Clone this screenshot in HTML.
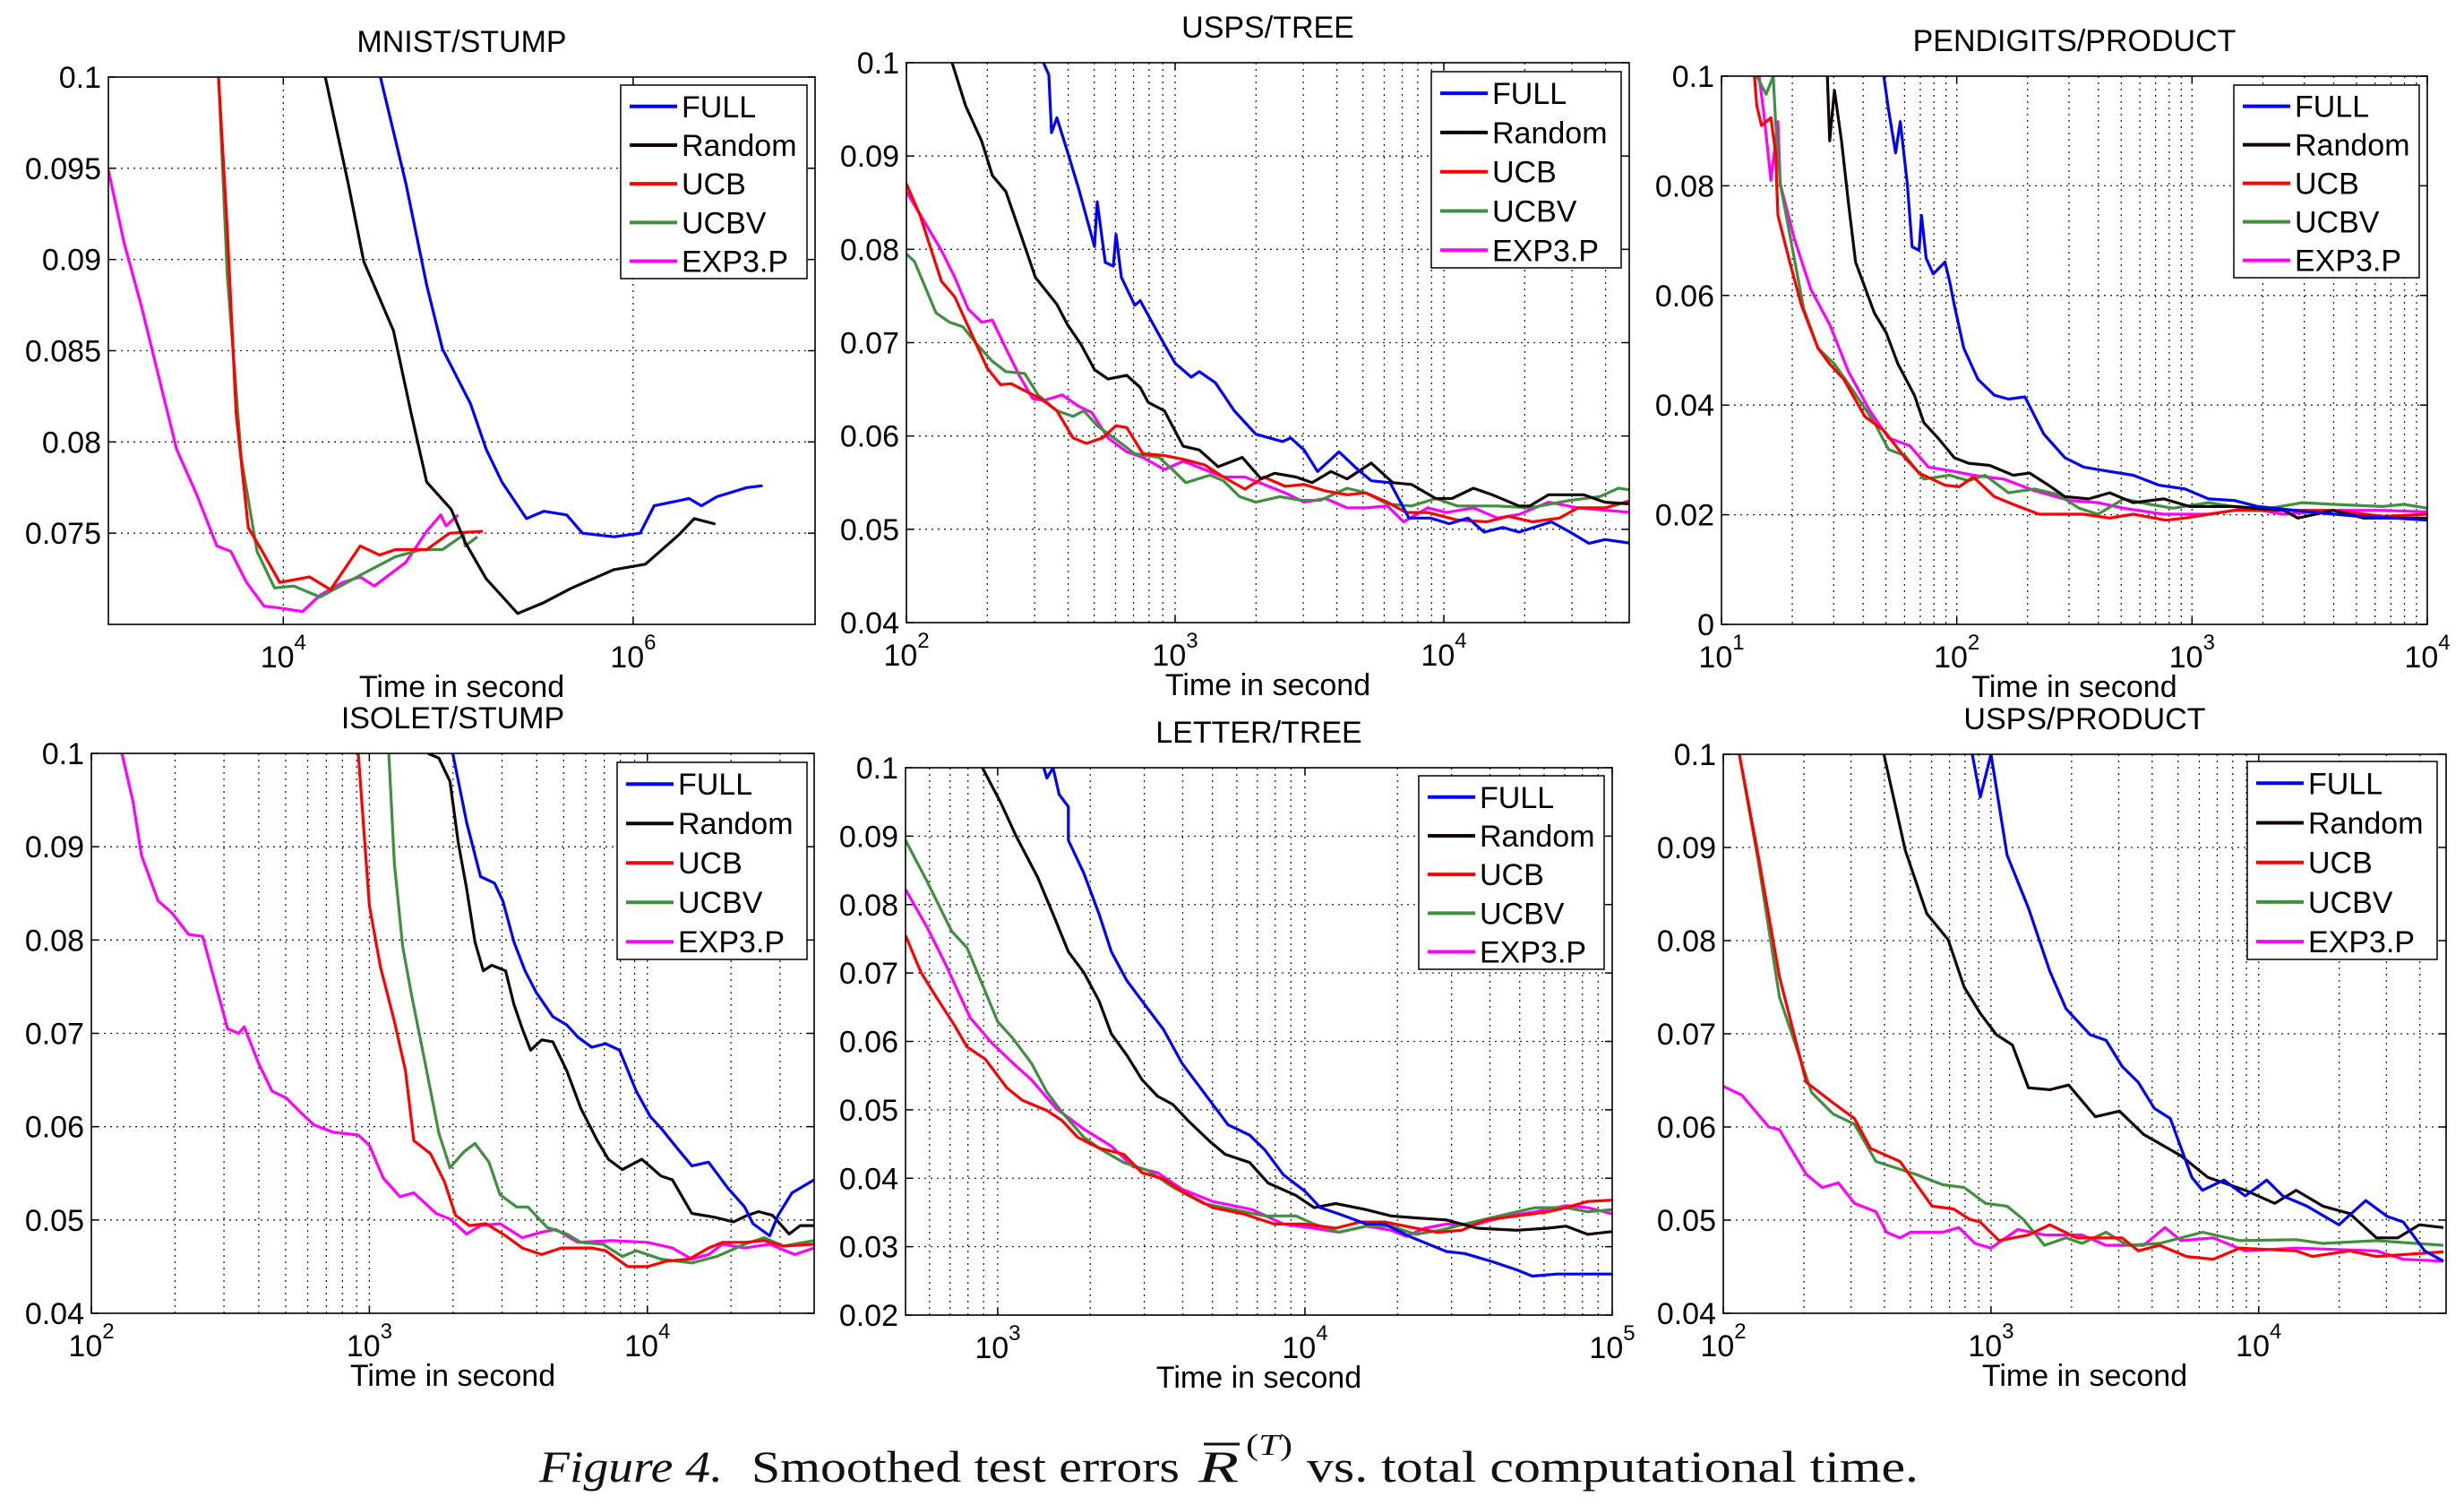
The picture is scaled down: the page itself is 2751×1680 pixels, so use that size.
<!DOCTYPE html>
<html><head><meta charset="utf-8"><style>
html,body{margin:0;padding:0;background:#fff;}
svg{display:block;font-family:"Liberation Sans",sans-serif;}
</style></head><body>
<svg id="fig" width="2751" height="1680" viewBox="0 0 2751 1680" xmlns="http://www.w3.org/2000/svg">
<rect width="2751" height="1680" fill="#fff"/>
<g font-family="'Liberation Serif',serif" font-size="50" fill="#111">
<text x="602" y="1654" font-style="italic" textLength="205" lengthAdjust="spacingAndGlyphs">Figure 4.</text>
<text x="839" y="1654" textLength="478" lengthAdjust="spacingAndGlyphs">Smoothed test errors</text>
<text x="1338" y="1654" font-style="italic" textLength="45" lengthAdjust="spacingAndGlyphs">R</text>
<line x1="1344" y1="1612" x2="1384" y2="1612" stroke="#111" stroke-width="3"/>
<text x="1391" y="1624" font-size="34" textLength="52" lengthAdjust="spacingAndGlyphs">(<tspan font-style="italic">T</tspan>)</text>
<text x="1459" y="1654" textLength="683" lengthAdjust="spacingAndGlyphs">vs. total computational time.</text>
</g>
</svg>
<script>
// ---------- data (x = log10 time in seconds, y = smoothed test error) ----------
// MNIST/STUMP
const mnistFullT=[4.555,4.70,4.82,4.91,5.07,5.16,5.25,5.39,5.49,5.62,5.71,5.89,6.04,6.12,6.32,6.39,6.48,6.65,6.74];
const mnistFullE=[0.1,0.0942,0.0886,0.0851,0.0821,0.0796,0.0778,0.0758,0.0762,0.0760,0.0750,0.0748,0.0750,0.0765,0.0769,0.0765,0.0770,0.0775,0.0776];
const mnistRandT=[4.24,4.37,4.46,4.63,4.73,4.82,4.96,5.04,5.16,5.34,5.49,5.65,5.89,6.07,6.26,6.35,6.47];
const mnistRandE=[0.1,0.0942,0.0899,0.0861,0.0816,0.0778,0.0763,0.0745,0.0725,0.0706,0.0712,0.0720,0.0730,0.0733,0.0749,0.0758,0.0755];
const mnistUcbT=[3.63,3.68,3.73,3.80,3.88,3.98,4.15,4.27,4.44,4.55,4.64,4.82,4.95,5.14];
const mnistUcbE=[0.1,0.0916,0.0816,0.0753,0.0740,0.0723,0.0726,0.0719,0.0743,0.0738,0.0741,0.0741,0.0750,0.0751];
const mnistUcbvT=[3.63,3.68,3.76,3.85,3.95,4.06,4.21,4.46,4.64,4.79,4.91,5.03,5.04,5.11];
const mnistUcbvE=[0.1,0.0891,0.0791,0.0740,0.0720,0.0721,0.0715,0.0728,0.0737,0.0741,0.0741,0.0749,0.0743,0.0748];
const mnistExpT=[3.0,3.09,3.19,3.30,3.39,3.51,3.62,3.70,3.79,3.89,3.98,4.11,4.21,4.34,4.44,4.52,4.70,4.82,4.90,4.93,5.00];
const mnistExpE=[0.0949,0.0909,0.0874,0.0831,0.0796,0.0770,0.0743,0.0740,0.0723,0.0710,0.0709,0.0707,0.0716,0.0723,0.0726,0.0721,0.0734,0.0751,0.0760,0.0754,0.0760];
// USPS/TREE
const uspsTreeFullT=[2.51,2.53,2.54,2.56,2.60,2.64,2.66,2.70,2.71,2.74,2.77,2.78,2.80,2.85,2.87,2.96,3.00,3.06,3.09,3.15,3.22,3.30,3.40,3.43,3.48,3.53,3.61,3.68,3.73,3.80,3.87,3.95,4.02,4.09,4.15,4.22,4.28,4.40,4.47,4.54,4.60,4.70];
const uspsTreeFullE=[0.1,0.0987,0.0925,0.0941,0.0904,0.0866,0.0845,0.0803,0.0851,0.0786,0.0782,0.0816,0.0770,0.0740,0.0745,0.0698,0.0678,0.0663,0.0669,0.0657,0.0627,0.0602,0.0594,0.0598,0.0585,0.0562,0.0583,0.0564,0.0552,0.0550,0.0512,0.0512,0.0506,0.0512,0.0497,0.0502,0.0497,0.0508,0.0497,0.0485,0.0489,0.0485];
const uspsTreeRandT=[2.17,2.22,2.28,2.32,2.37,2.43,2.48,2.56,2.60,2.65,2.70,2.75,2.82,2.87,2.90,2.96,3.03,3.09,3.16,3.25,3.32,3.37,3.45,3.51,3.58,3.64,3.73,3.81,3.88,3.97,4.03,4.11,4.18,4.28,4.32,4.39,4.52,4.60,4.70];
const uspsTreeRandE=[0.1,0.0954,0.0916,0.0879,0.0862,0.0812,0.0770,0.0741,0.0719,0.0698,0.0671,0.0661,0.0665,0.0652,0.0636,0.0627,0.0589,0.0585,0.0567,0.0577,0.0554,0.0560,0.0556,0.0550,0.0562,0.0554,0.0571,0.0550,0.0548,0.0533,0.0533,0.0544,0.0537,0.0525,0.0525,0.0537,0.0537,0.0529,0.0527];
const uspsTreeUcbT=[2.0,2.05,2.13,2.18,2.24,2.30,2.35,2.39,2.43,2.50,2.56,2.62,2.67,2.73,2.78,2.82,2.88,2.96,3.03,3.11,3.18,3.26,3.33,3.41,3.48,3.56,3.64,3.71,3.79,3.86,3.94,4.05,4.16,4.24,4.33,4.43,4.50,4.60,4.70];
const uspsTreeUcbE=[0.0870,0.0837,0.0766,0.0749,0.0711,0.0673,0.0655,0.0656,0.0650,0.0640,0.0627,0.0598,0.0592,0.0598,0.0611,0.0609,0.0581,0.0579,0.0575,0.0569,0.0556,0.0543,0.0556,0.0546,0.0548,0.0541,0.0537,0.0539,0.0529,0.0518,0.0518,0.0510,0.0508,0.0514,0.0508,0.0512,0.0523,0.0523,0.0531];
const uspsTreeUcbvT=[2.0,2.03,2.11,2.16,2.21,2.26,2.32,2.37,2.44,2.49,2.56,2.62,2.66,2.71,2.79,2.85,2.94,2.99,3.04,3.13,3.18,3.24,3.30,3.39,3.47,3.54,3.64,3.71,3.79,3.88,3.97,4.05,4.20,4.32,4.47,4.58,4.65,4.70];
const uspsTreeUcbvE=[0.0795,0.0787,0.0732,0.0722,0.0717,0.0699,0.0680,0.0669,0.0667,0.0644,0.0627,0.0621,0.0627,0.0611,0.0594,0.0581,0.0577,0.0564,0.0550,0.0558,0.0552,0.0535,0.0529,0.0535,0.0531,0.0531,0.0544,0.0539,0.0527,0.0525,0.0533,0.0525,0.0525,0.0523,0.0531,0.0535,0.0544,0.0542];
const uspsTreeExpT=[2.0,2.06,2.13,2.18,2.23,2.28,2.32,2.37,2.42,2.47,2.51,2.58,2.64,2.69,2.75,2.82,2.88,2.96,3.03,3.11,3.18,3.26,3.33,3.41,3.48,3.56,3.64,3.71,3.79,3.85,3.94,4.01,4.11,4.20,4.28,4.39,4.50,4.62,4.70];
const uspsTreeExpE=[0.0862,0.0833,0.0799,0.0770,0.0736,0.0722,0.0724,0.0694,0.0665,0.0640,0.0638,0.0644,0.0632,0.0625,0.0598,0.0583,0.0577,0.0564,0.0573,0.0564,0.0556,0.0556,0.0548,0.0539,0.0529,0.0533,0.0523,0.0523,0.0525,0.0508,0.0523,0.0518,0.0523,0.0512,0.0516,0.0529,0.0523,0.0520,0.0518];
// PENDIGITS/PRODUCT
const penFullT=[1.69,1.71,1.74,1.76,1.79,1.81,1.84,1.85,1.87,1.90,1.95,1.97,1.99,2.03,2.09,2.16,2.22,2.29,2.37,2.46,2.54,2.65,2.75,2.86,2.97,3.07,3.18,3.28,3.50,3.71,3.86,4.0];
const penFullE=[0.1,0.0939,0.0860,0.0917,0.0803,0.0689,0.0682,0.0746,0.0668,0.0639,0.0661,0.0625,0.0582,0.0504,0.0447,0.0418,0.0411,0.0415,0.0347,0.0304,0.0287,0.0279,0.0272,0.0254,0.0247,0.0229,0.0226,0.0215,0.0205,0.0197,0.0194,0.0190];
const penRandT=[1.45,1.46,1.48,1.51,1.54,1.57,1.65,1.70,1.75,1.82,1.86,1.92,1.99,2.05,2.14,2.24,2.31,2.39,2.46,2.56,2.65,2.75,2.88,2.99,3.18,3.39,3.45,3.60,3.73,4.0];
const penRandE=[0.1,0.0882,0.0974,0.0882,0.0768,0.0661,0.0568,0.0532,0.0475,0.0418,0.0368,0.0340,0.0304,0.0294,0.0290,0.0272,0.0276,0.0254,0.0233,0.0229,0.0240,0.0222,0.0229,0.0215,0.0215,0.0208,0.0194,0.0208,0.0194,0.0194];
const penUcbT=[1.14,1.15,1.17,1.21,1.23,1.24,1.29,1.34,1.41,1.46,1.52,1.61,1.69,1.78,1.84,1.95,2.01,2.07,2.16,2.24,2.35,2.54,2.65,2.75,2.89,2.97,3.18,3.39,3.60,3.81,4.0];
const penUcbE=[0.1,0.0946,0.0910,0.0924,0.0860,0.0746,0.0661,0.0582,0.0504,0.0475,0.0447,0.0379,0.0354,0.0304,0.0276,0.0254,0.0251,0.0269,0.0233,0.0219,0.0201,0.0201,0.0194,0.0201,0.0190,0.0194,0.0208,0.0208,0.0208,0.0197,0.0201];
const penUcbvT=[1.15,1.19,1.22,1.23,1.25,1.30,1.35,1.41,1.48,1.56,1.65,1.71,1.78,1.86,1.97,2.05,2.12,2.22,2.33,2.43,2.52,2.60,2.71,2.82,2.92,3.07,3.28,3.47,3.60,3.81,3.90,4.0];
const penUcbvE=[0.1,0.0967,0.1,0.0917,0.0803,0.0689,0.0575,0.0504,0.0475,0.0426,0.0368,0.0319,0.0308,0.0265,0.0272,0.0262,0.0272,0.0240,0.0247,0.0237,0.0212,0.0201,0.0229,0.0219,0.0212,0.0222,0.0208,0.0222,0.0219,0.0215,0.0219,0.0212];
const penExpT=[1.16,1.18,1.21,1.24,1.25,1.31,1.38,1.46,1.54,1.63,1.71,1.80,1.88,1.99,2.07,2.20,2.33,2.48,2.60,2.71,2.88,3.07,3.24,3.39,3.60,3.81,4.0];
const penExpE=[0.1,0.0932,0.0810,0.0917,0.0803,0.0703,0.0611,0.0547,0.0461,0.0390,0.0340,0.0326,0.0287,0.0279,0.0272,0.0265,0.0244,0.0226,0.0222,0.0212,0.0201,0.0201,0.0212,0.0201,0.0208,0.0208,0.0205];
// ISOLET/STUMP
const isoFullT=[3.30,3.35,3.40,3.45,3.48,3.52,3.56,3.60,3.66,3.71,3.75,3.80,3.85,3.90,3.96,4.01,4.05,4.11,4.16,4.22,4.29,4.35,4.38,4.44,4.47,4.52,4.60];
const isoFullE=[0.1,0.0926,0.0868,0.0861,0.0842,0.0798,0.0767,0.0744,0.0718,0.0709,0.0696,0.0685,0.0689,0.0682,0.0638,0.0611,0.0598,0.0576,0.0558,0.0562,0.0534,0.0514,0.0496,0.0483,0.0505,0.0529,0.0543];
const isoRandT=[3.21,3.25,3.29,3.32,3.35,3.38,3.41,3.44,3.49,3.52,3.55,3.58,3.62,3.66,3.71,3.76,3.82,3.86,3.91,3.98,4.05,4.09,4.16,4.24,4.31,4.36,4.40,4.45,4.51,4.55,4.60];
const isoRandE=[0.1,0.0995,0.0970,0.0904,0.0855,0.0798,0.0767,0.0773,0.0767,0.0731,0.0705,0.0682,0.0693,0.0691,0.0660,0.0620,0.0585,0.0565,0.0554,0.0565,0.0547,0.0543,0.0507,0.0503,0.0498,0.0505,0.0509,0.0505,0.0485,0.0494,0.0494];
const isoUcbT=[2.96,3.0,3.04,3.09,3.13,3.16,3.22,3.27,3.31,3.36,3.42,3.49,3.55,3.62,3.69,3.80,3.85,3.93,4.0,4.07,4.15,4.22,4.27,4.35,4.42,4.49,4.60];
const isoUcbE=[0.1,0.0837,0.0771,0.0713,0.0660,0.0585,0.0571,0.0541,0.0505,0.0494,0.0496,0.0483,0.0470,0.0463,0.0470,0.0470,0.0467,0.0450,0.0450,0.0456,0.0458,0.0470,0.0476,0.0476,0.0478,0.0472,0.0474];
const isoUcbvT=[3.07,3.09,3.12,3.15,3.20,3.25,3.29,3.34,3.38,3.43,3.47,3.53,3.57,3.64,3.71,3.76,3.84,3.91,3.96,4.05,4.16,4.25,4.35,4.42,4.49,4.60];
const isoUcbvE=[0.1,0.0882,0.0793,0.0744,0.0669,0.0593,0.0556,0.0573,0.0582,0.0562,0.0527,0.0514,0.0514,0.0492,0.0485,0.0476,0.0474,0.0461,0.0467,0.0458,0.0454,0.0461,0.0474,0.0481,0.0472,0.0478];
const isoExpT=[2.11,2.15,2.18,2.24,2.29,2.35,2.40,2.45,2.49,2.53,2.55,2.60,2.65,2.70,2.75,2.80,2.87,2.96,3.0,3.05,3.11,3.16,3.24,3.29,3.35,3.40,3.47,3.55,3.62,3.67,3.75,3.87,4.0,4.09,4.16,4.22,4.27,4.35,4.44,4.53,4.60];
const isoExpE=[0.1,0.0948,0.0891,0.0842,0.0829,0.0806,0.0804,0.0749,0.0705,0.0700,0.0707,0.0669,0.0638,0.0631,0.0616,0.0602,0.0594,0.0591,0.0580,0.0545,0.0525,0.0529,0.0507,0.0501,0.0485,0.0494,0.0496,0.0481,0.0487,0.0490,0.0476,0.0478,0.0476,0.0470,0.0458,0.0463,0.0474,0.0470,0.0474,0.0463,0.0470];
// LETTER/TREE
const letFullT=[3.15,3.16,3.18,3.20,3.23,3.23,3.28,3.33,3.37,3.42,3.47,3.54,3.60,3.65,3.70,3.75,3.82,3.87,3.93,4.0,4.05,4.11,4.20,4.26,4.34,4.46,4.52,4.61,4.69,4.74,4.82,4.89,5.0];
const letFullE=[0.1,0.0985,0.1,0.0961,0.0943,0.0894,0.0846,0.0786,0.0731,0.0689,0.0659,0.0617,0.0568,0.0538,0.0508,0.0478,0.0463,0.0441,0.0405,0.0381,0.0357,0.0348,0.0333,0.0333,0.0315,0.0293,0.0290,0.0278,0.0266,0.0257,0.0260,0.0260,0.0260];
const letRandT=[2.95,3.01,3.06,3.13,3.18,3.23,3.28,3.33,3.37,3.42,3.47,3.52,3.57,3.62,3.69,3.74,3.82,3.88,3.97,4.03,4.10,4.20,4.28,4.36,4.46,4.56,4.69,4.79,4.85,4.92,5.0];
const letRandE=[0.1,0.0949,0.0900,0.0840,0.0786,0.0731,0.0701,0.0659,0.0611,0.0580,0.0544,0.0520,0.0508,0.0484,0.0454,0.0435,0.0423,0.0393,0.0375,0.0357,0.0363,0.0354,0.0345,0.0342,0.0339,0.0327,0.0324,0.0327,0.0330,0.0318,0.0322];
const letUcbT=[2.70,2.75,2.80,2.86,2.90,2.96,3.03,3.08,3.16,3.21,3.26,3.33,3.41,3.47,3.54,3.60,3.70,3.80,3.90,4.0,4.10,4.18,4.26,4.36,4.43,4.51,4.59,4.69,4.79,4.85,4.92,5.0];
const letUcbE=[0.0755,0.0701,0.0665,0.0623,0.0592,0.0574,0.0532,0.0514,0.0499,0.0484,0.0460,0.0444,0.0435,0.0408,0.0399,0.0381,0.0357,0.0348,0.0333,0.0333,0.0327,0.0336,0.0336,0.0327,0.0321,0.0324,0.0339,0.0345,0.0351,0.0357,0.0366,0.0368];
const letUcbvT=[2.70,2.77,2.85,2.90,2.95,3.0,3.05,3.11,3.16,3.21,3.28,3.34,3.41,3.49,3.57,3.67,3.77,3.87,3.97,4.03,4.11,4.20,4.28,4.36,4.44,4.52,4.66,4.75,4.85,4.92,5.0];
const letUcbvE=[0.0894,0.0834,0.0761,0.0737,0.0683,0.0629,0.0604,0.0568,0.0526,0.0496,0.0460,0.0441,0.0423,0.0411,0.0387,0.0363,0.0354,0.0345,0.0345,0.0333,0.0321,0.0330,0.0330,0.0318,0.0324,0.0333,0.0348,0.0357,0.0357,0.0351,0.0354];
const letExpT=[2.70,2.77,2.83,2.91,2.98,3.05,3.11,3.19,3.28,3.37,3.44,3.52,3.60,3.70,3.83,3.93,4.03,4.11,4.20,4.28,4.33,4.39,4.46,4.56,4.66,4.75,4.85,4.92,5.0];
const letExpE=[0.0822,0.0767,0.0713,0.0635,0.0598,0.0568,0.0544,0.0502,0.0472,0.0447,0.0417,0.0408,0.0384,0.0366,0.0354,0.0333,0.0327,0.0321,0.0330,0.0324,0.0315,0.0327,0.0333,0.0333,0.0345,0.0351,0.0360,0.0357,0.0348];
// USPS/PRODUCT
const uspsProdFullT=[2.93,2.96,3.0,3.06,3.14,3.22,3.28,3.37,3.43,3.49,3.55,3.61,3.67,3.75,3.79,3.87,3.95,4.03,4.09,4.18,4.30,4.40,4.48,4.54,4.62,4.69];
const uspsProdFullE=[0.1,0.0954,0.1,0.0892,0.0835,0.0767,0.0727,0.0699,0.0693,0.0665,0.0648,0.0620,0.0609,0.0546,0.0532,0.0543,0.0526,0.0543,0.0526,0.0515,0.0495,0.0521,0.0504,0.0498,0.0467,0.0456];
const uspsProdRandT=[2.60,2.68,2.76,2.84,2.90,2.96,3.02,3.08,3.14,3.22,3.29,3.39,3.48,3.57,3.71,3.81,3.95,4.06,4.14,4.24,4.34,4.44,4.52,4.60,4.69];
const uspsProdRandE=[0.1,0.0897,0.0829,0.0801,0.0750,0.0722,0.0699,0.0688,0.0642,0.0640,0.0645,0.0611,0.0617,0.0592,0.0569,0.0546,0.0532,0.0518,0.0532,0.0515,0.0507,0.0481,0.0481,0.0495,0.0492];
const uspsProdUcbT=[2.06,2.13,2.21,2.31,2.41,2.49,2.55,2.66,2.78,2.86,2.92,2.96,3.03,3.14,3.22,3.32,3.49,3.55,3.63,3.73,3.83,3.93,4.14,4.20,4.34,4.44,4.69];
const uspsProdUcbE=[0.1,0.0892,0.0761,0.0648,0.0626,0.0609,0.0577,0.0563,0.0515,0.0512,0.0501,0.0498,0.0478,0.0484,0.0495,0.0481,0.0481,0.0467,0.0473,0.0461,0.0458,0.0470,0.0467,0.0461,0.0467,0.0461,0.0466];
const uspsProdUcbvT=[2.06,2.13,2.21,2.33,2.41,2.49,2.57,2.72,2.82,2.90,2.98,3.06,3.12,3.20,3.28,3.34,3.43,3.51,3.63,3.79,3.93,4.14,4.24,4.44,4.69];
const uspsProdUcbvE=[0.1,0.0886,0.0739,0.0637,0.0614,0.0603,0.0563,0.0549,0.0538,0.0535,0.0518,0.0515,0.0501,0.0473,0.0481,0.0475,0.0487,0.0473,0.0475,0.0487,0.0478,0.0479,0.0475,0.0478,0.0473];
const uspsProdExpT=[1.99,2.07,2.17,2.21,2.31,2.37,2.43,2.49,2.57,2.61,2.66,2.70,2.82,2.88,2.94,3.0,3.10,3.20,3.34,3.43,3.57,3.65,3.71,3.83,3.95,4.14,4.44,4.54,4.69];
const uspsProdExpE=[0.0645,0.0634,0.0600,0.0597,0.0549,0.0535,0.0540,0.0518,0.0509,0.0487,0.0481,0.0487,0.0487,0.0492,0.0475,0.0470,0.0490,0.0484,0.0484,0.0473,0.0473,0.0492,0.0478,0.0481,0.0467,0.0470,0.0467,0.0458,0.0456];

const seriesNames=["FULL","Random","UCB","UCBV","EXP3.P"];
const seriesColors=["#0000ff","#140505","#ff0000","#3f8f3f","#ff00ff"];

const panels=[
 {id:"mnist-stump",title:"MNIST/STUMP",box:[121,86,910,697],xr:[3.0,7.04],yr:[0.07,0.1],yt:["0.075","0.08","0.085","0.09","0.095","0.1"],xt:[4,6],minor:false,leg:[693,95,901,311],
  T:[mnistFullT,mnistRandT,mnistUcbT,mnistUcbvT,mnistExpT],E:[mnistFullE,mnistRandE,mnistUcbE,mnistUcbvE,mnistExpE]},
 {id:"usps-tree",title:"USPS/TREE",box:[1012,70,1819,695],xr:[2,4.69],yr:[0.04,0.1],yt:["0.04","0.05","0.06","0.07","0.08","0.09","0.1"],xt:[2,3,4],minor:true,leg:[1598,80,1810,299],
  T:[uspsTreeFullT,uspsTreeRandT,uspsTreeUcbT,uspsTreeUcbvT,uspsTreeExpT],E:[uspsTreeFullE,uspsTreeRandE,uspsTreeUcbE,uspsTreeUcbvE,uspsTreeExpE]},
 {id:"pendigits-product",title:"PENDIGITS/PRODUCT",box:[1922,85,2710,697],xr:[1,4],yr:[0,0.1],yt:["0","0.02","0.04","0.06","0.08","0.1"],xt:[1,2,3,4],minor:true,leg:[2494,95,2701,310],
  T:[penFullT,penRandT,penUcbT,penUcbvT,penExpT],E:[penFullE,penRandE,penUcbE,penUcbvE,penExpE]},
 {id:"isolet-stump",title:"ISOLET/STUMP",box:[102,841,909,1466],xr:[2,4.60],yr:[0.04,0.1],yt:["0.04","0.05","0.06","0.07","0.08","0.09","0.1"],xt:[2,3,4],minor:true,leg:[689,851,901,1071],
  T:[isoFullT,isoRandT,isoUcbT,isoUcbvT,isoExpT],E:[isoFullE,isoRandE,isoUcbE,isoUcbvE,isoExpE]},
 {id:"letter-tree",title:"LETTER/TREE",box:[1011,857,1800,1468],xr:[2.70,5],yr:[0.02,0.1],yt:["0.02","0.03","0.04","0.05","0.06","0.07","0.08","0.09","0.1"],xt:[3,4,5],minor:true,leg:[1584,866,1791,1082],
  T:[letFullT,letRandT,letUcbT,letUcbvT,letExpT],E:[letFullE,letRandE,letUcbE,letUcbvE,letExpE]},
 {id:"usps-product",title:"USPS/PRODUCT",box:[1924,842,2731,1466],xr:[2,4.70],yr:[0.04,0.1],yt:["0.04","0.05","0.06","0.07","0.08","0.09","0.1"],xt:[2,3,4],minor:true,leg:[2509,850,2721,1071],
  T:[uspsProdFullT,uspsProdRandT,uspsProdUcbT,uspsProdUcbvT,uspsProdExpT],E:[uspsProdFullE,uspsProdRandE,uspsProdUcbE,uspsProdUcbvE,uspsProdExpE]}
];

const NS="http://www.w3.org/2000/svg";
const svg=document.getElementById("fig");
function mk(tag,attrs,parent){const e=document.createElementNS(NS,tag);for(const k in attrs)e.setAttribute(k,attrs[k]);(parent||svg).appendChild(e);return e;}

panels.forEach((p,pi)=>{
  const [L,T,R,B]=p.box;
  const xs=v=>L+(v-p.xr[0])/(p.xr[1]-p.xr[0])*(R-L);
  const ys=v=>B-(v-p.yr[0])/(p.yr[1]-p.yr[0])*(B-T);
  const g=mk("g",{});
  
  
  const cp=mk("clipPath",{id:"clip"+pi},g);
  mk("rect",{x:L,y:T,width:R-L,height:B-T},cp);
  // grid
  const grid=mk("g",{stroke:"#222","stroke-width":"1.3","stroke-dasharray":"2,5"},g);
  
  
  p.yt.forEach(t=>{const y=ys(parseFloat(t));if(y>T+1&&y<B-1)mk("line",{x1:L,y1:y,x2:R,y2:y},grid);});
  for(let d=Math.floor(p.xr[0]);d<=Math.ceil(p.xr[1]);d++){
    const ms=p.minor?[1,2,3,4,5,6,7,8,9]:[1];
    ms.forEach(m=>{const lv=d+Math.log10(m);if(!p.minor&&p.xt.indexOf(d)<0)return;
      if(lv>p.xr[0]+0.005&&lv<p.xr[1]-0.005){const x=xs(lv);mk("line",{x1:x,y1:T,x2:x,y2:B},grid);}});
  }
  // ticks
  const tk=mk("g",{stroke:"#000","stroke-width":"1.5"},g);
  p.yt.forEach(t=>{const y=ys(parseFloat(t));mk("line",{x1:L,y1:y,x2:L+8,y2:y},tk);mk("line",{x1:R,y1:y,x2:R-8,y2:y},tk);});
  p.xt.forEach(d=>{const x=xs(d);mk("line",{x1:x,y1:B,x2:x,y2:B-8},tk);mk("line",{x1:x,y1:T,x2:x,y2:T+8},tk);});
  // series
  const sg=mk("g",{"clip-path":"url(#clip"+pi+")",fill:"none","stroke-width":"3.2","stroke-linejoin":"round"},g);
  [4,3,2,1,0].forEach(si=>{
    const ts=p.T[si],es=p.E[si];
    const d=ts.map((t,i)=>(i?"L":"M")+xs(t).toFixed(1)+","+ys(es[i]).toFixed(1)).join(" ");
    const path=mk("path",{d:d,stroke:seriesColors[si]},sg);
    
    
  });
  // frame
  const fr=mk("rect",{x:L,y:T,width:R-L,height:B-T,fill:"none",stroke:"#000","stroke-width":"1.6"},g);
  
  
  // y labels
  p.yt.forEach(t=>{const y=ys(parseFloat(t));
    const tx=mk("text",{x:L-8,y:y+12,"text-anchor":"end","font-size":"34",fill:"#000"},g);tx.textContent=t;
    
    });
  // x labels
  p.xt.forEach(d=>{const x=xs(d);
    const tx=mk("text",{x:x,y:B+48,"text-anchor":"middle","font-size":"34",fill:"#000"},g);
    
    
    tx.appendChild(document.createTextNode("10"));
    const sp=mk("tspan",{dy:"-20","font-size":"24"},tx);sp.textContent=String(d);});
  const xl=mk("text",{x:(L+R)/2,y:B+81,"text-anchor":"middle","font-size":"34",fill:"#000"},g);
  xl.textContent="Time in second";
  
  
  const tt=mk("text",{x:(L+R)/2,y:T-28,"text-anchor":"middle","font-size":"34",fill:"#000"},g);
  tt.textContent=p.title;
  
  
  // legend
  const [lx0,ly0,lx1,ly1]=p.leg;
  const lg=mk("g",{},g);
  
  
  mk("rect",{x:lx0,y:ly0,width:lx1-lx0,height:ly1-ly0,fill:"#fff",stroke:"#000","stroke-width":"1.5"},lg);
  const rh=(ly1-ly0)/5;
  seriesNames.forEach((n,i)=>{
    const cy=ly0+rh*(i+0.55);
    const ln=mk("line",{x1:lx0+10,y1:cy,x2:lx0+63,y2:cy,stroke:seriesColors[i],"stroke-width":"4"},lg);
    
    
    const tx=mk("text",{x:lx0+68,y:cy+12,"font-size":"34",fill:"#000"},lg);
    tx.textContent=n;
    
    
  });
});
</script>
</body></html>
